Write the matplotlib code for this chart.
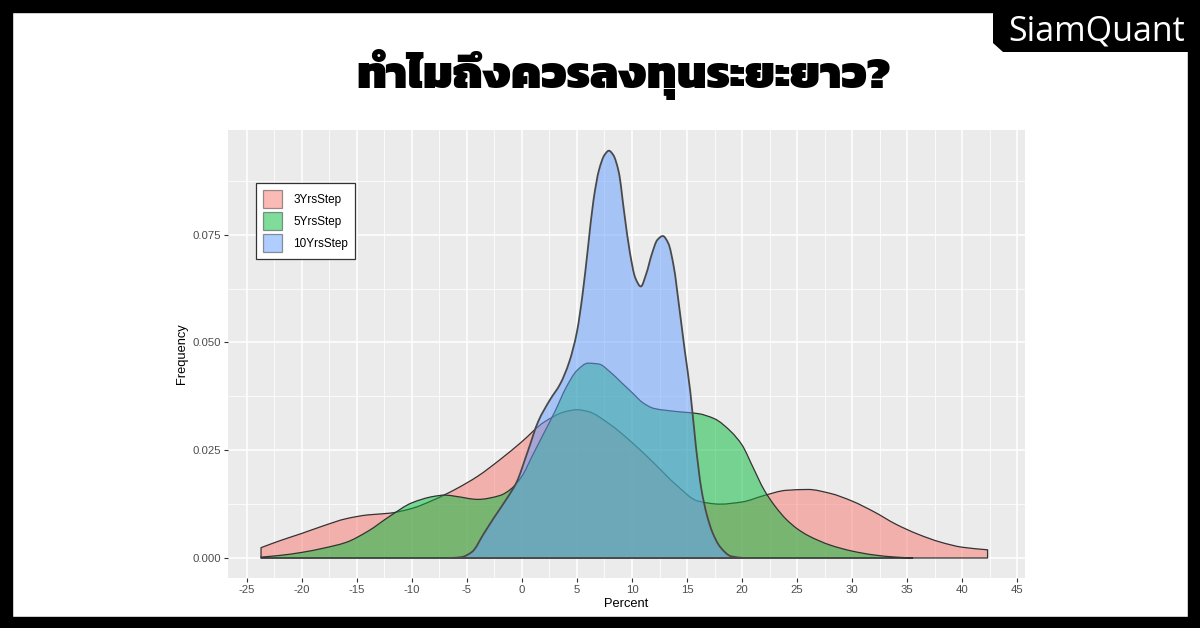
import matplotlib
matplotlib.use("Agg")
import numpy as np
import matplotlib.pyplot as plt
from matplotlib.patches import Patch, Polygon, PathPatch
from matplotlib.path import Path
from matplotlib.ticker import MultipleLocator

# Density curves (Percent, Frequency) for each holding period
x_3yr = [-23.7, -22, -20, -18, -16, -14, -12, -10, -8, -6, -4, -2, 0, 2, 4, 5, 6, 8,
         10, 12, 14, 16, 18, 20, 22, 24, 26, 28, 30, 32, 34, 36, 38, 40, 42.3]
y_3yr = [0.0024, 0.0040, 0.0057, 0.0075, 0.0091, 0.0100, 0.0104, 0.0115, 0.0135,
         0.0160, 0.0190, 0.0228, 0.0270, 0.0315, 0.0340, 0.0344, 0.0340, 0.0310,
         0.0268, 0.0220, 0.0170, 0.0132, 0.0125, 0.0130, 0.0145, 0.0157, 0.0159,
         0.0150, 0.0132, 0.0107, 0.0078, 0.0055, 0.0037, 0.0025, 0.0019]

x_5yr = [-23.7, -22, -20, -18, -16, -14, -12, -10, -8, -7, -6, -4, -2, -1, 0, 1, 2,
         3, 4, 5, 6, 7, 8, 9, 10, 11, 12, 14, 16, 17.5, 19, 20, 21, 22, 23, 24, 25,
         26, 28, 30, 32, 34, 35.5]
y_5yr = [0.0002, 0.0006, 0.0013, 0.0023, 0.0036, 0.0062, 0.0097, 0.0128, 0.0143,
         0.0146, 0.0143, 0.0136, 0.0145, 0.0160, 0.0190, 0.0240, 0.0290, 0.0340,
         0.0395, 0.0435, 0.0452, 0.0450, 0.0432, 0.0408, 0.0384, 0.0360, 0.0347,
         0.0340, 0.0335, 0.0323, 0.0293, 0.0262, 0.0210, 0.0158, 0.0120, 0.0090,
         0.0068, 0.0052, 0.0030, 0.0016, 0.0007, 0.0002, 0.0000]

x_10yr = [-6.4, -5.5, -4.5, -3.5, -2.5, -1.5, -0.5, 0.5, 1.5, 2.5, 3.5, 4.3, 5.0,
          5.5, 6.0, 6.5, 7.0, 7.5, 7.9, 8.3, 8.8, 9.3, 9.8, 10.3, 10.8, 11.3, 11.8,
          12.3, 12.8, 13.3, 13.8, 14.3, 14.8, 15.3, 15.8, 16.3, 16.8, 17.3, 18.0,
          19.0, 20.1]
y_10yr = [0.0000, 0.0002, 0.0015, 0.0055, 0.0095, 0.0133, 0.0175, 0.0245, 0.0318,
          0.0365, 0.0405, 0.0455, 0.0525, 0.0610, 0.0720, 0.0830, 0.0900, 0.0935,
          0.0945, 0.0935, 0.0895, 0.0800, 0.0710, 0.0650, 0.0630, 0.0660, 0.0705,
          0.0738, 0.0747, 0.0730, 0.0675, 0.0580, 0.0480, 0.0385, 0.0260, 0.0160,
          0.0100, 0.0060, 0.0026, 0.0004, 0.0000]

series_names = ["3YrsStep", "5YrsStep", "10YrsStep"]
series_colors = ["#F8766D", "#00BA38", "#619CFF"]

title_text = "ทำไมถึงควรลงทุนระยะยาว?"
brand_text = "SiamQuant"
x_ticks = list(range(-25, 50, 5))
y_ticks = [0.0, 0.025, 0.05, 0.075]
y_tick_labels = ["0.000", "0.025", "0.050", "0.075"]

W, H = 1200, 628
fig = plt.figure(figsize=(W / 100, H / 100), dpi=100)
fig.patch.set_facecolor("white")


def px(x, y):
    """Pixel position (from top-left) to figure fraction."""
    return x / W, 1 - y / H


def smooth_area_path(xs, ys):
    """Closed area under a curve, drawn as monotone cubic Bezier segments."""
    x = np.asarray(xs, float)
    y = np.asarray(ys, float)
    h = np.diff(x)
    d = np.diff(y) / h
    m = np.zeros_like(y)
    for i in range(1, len(y) - 1):
        if d[i - 1] * d[i] > 0:
            w1 = 2 * h[i] + h[i - 1]
            w2 = h[i] + 2 * h[i - 1]
            m[i] = (w1 + w2) / (w1 / d[i - 1] + w2 / d[i])
    m[0], m[-1] = d[0], d[-1]
    verts = [(x[0], y[0])]
    codes = [Path.MOVETO]
    for i in range(len(x) - 1):
        verts += [(x[i] + h[i] / 3, y[i] + m[i] * h[i] / 3),
                  (x[i + 1] - h[i] / 3, y[i + 1] - m[i + 1] * h[i] / 3),
                  (x[i + 1], y[i + 1])]
        codes += [Path.CURVE4] * 3
    verts += [(x[-1], 0.0), (x[0], 0.0), (x[0], y[0])]
    codes += [Path.LINETO, Path.LINETO, Path.CLOSEPOLY]
    return Path(verts, codes)


# black frame around the card
frame = 12
for rect in [(0, 0, W, frame), (0, H - 11, W, 11), (0, 0, frame, H), (W - frame, 0, frame, H)]:
    x0, y0, w, h = rect
    fig.patches.append(plt.Rectangle(px(x0, y0 + h), w / W, h / H,
                                     transform=fig.transFigure, color="black", zorder=5))

# brand tab in the top-right corner
tab = [(993, 0), (W, 0), (W, 52), (1003, 52), (993, 43)]
fig.patches.append(Polygon([px(a, b) for a, b in tab], closed=True,
                           transform=fig.transFigure, facecolor="black",
                           edgecolor="none", zorder=5))
fig.text(*px(1097, 40), brand_text, color="white", fontsize=24.5, family="Open Sans",
         ha="center", va="baseline", zorder=6)

# headline
fig.text(*px(624, 74), title_text, family="Kanit", weight=900, fontsize=33,
         ha="center", va="center", color="black")

# plotting panel
left, right, top, bottom = 228, 1025, 130, 578
ax = fig.add_axes([left / W, 1 - bottom / H, (right - left) / W, (bottom - top) / H])
ax.set_facecolor("#EBEBEB")
for s in ax.spines.values():
    s.set_visible(False)
ax.set_xlim(-26.7, 45.7)
ax.set_ylim(-0.00464, 0.0993)

ax.set_xticks(x_ticks)
ax.set_xticklabels([str(t) for t in x_ticks])
ax.set_yticks(y_ticks)
ax.set_yticklabels(y_tick_labels)
ax.xaxis.set_minor_locator(MultipleLocator(2.5))
ax.yaxis.set_minor_locator(MultipleLocator(0.0125))
ax.grid(which="major", color="white", linewidth=1.1)
ax.grid(which="minor", color="white", linewidth=0.55)
ax.set_axisbelow(True)
ax.tick_params(which="major", length=3, width=0.8, color="#333333",
               labelsize=8.2, labelcolor="#4D4D4D", pad=2)
ax.tick_params(which="minor", length=0)
for lab in ax.get_xticklabels() + ax.get_yticklabels():
    lab.set_family("Liberation Sans")

ax.set_xlabel("Percent", family="Liberation Sans", fontsize=9.3, labelpad=2)
ax.set_ylabel("Frequency", family="Liberation Sans", fontsize=9.3, labelpad=3)

curves = [(x_3yr, y_3yr), (x_5yr, y_5yr), (x_10yr, y_10yr)]
line_widths = [0.9, 0.9, 1.3]
line_colors = ["#333333", "#333333", "#4a4a4a"]
for i, ((xs, ys), col, lw, lc) in enumerate(zip(curves, series_colors, line_widths, line_colors)):
    path = smooth_area_path(xs, ys)
    ax.add_patch(PathPatch(path, facecolor=col, alpha=0.5, edgecolor="none", zorder=2 + i))
    ax.add_patch(PathPatch(path, facecolor="none", edgecolor=lc, linewidth=lw,
                           zorder=2 + i, joinstyle="round"))

handles = [Patch(facecolor=c, alpha=0.5, edgecolor="#333333", linewidth=0.9)
           for c in series_colors]
leg = ax.legend(handles, series_names, loc="upper left",
                bbox_to_anchor=px(256, 183), bbox_transform=fig.transFigure,
                frameon=True, fancybox=False, framealpha=1, edgecolor="#333333",
                prop={"family": "Liberation Sans", "size": 8.5},
                handlelength=1.64, handleheight=2.0, handletextpad=0.93,
                labelspacing=0.3, borderpad=0.6, borderaxespad=0)
leg.get_frame().set_linewidth(0.9)
leg.set_zorder(10)

fig.savefig("out.png", dpi=100)
